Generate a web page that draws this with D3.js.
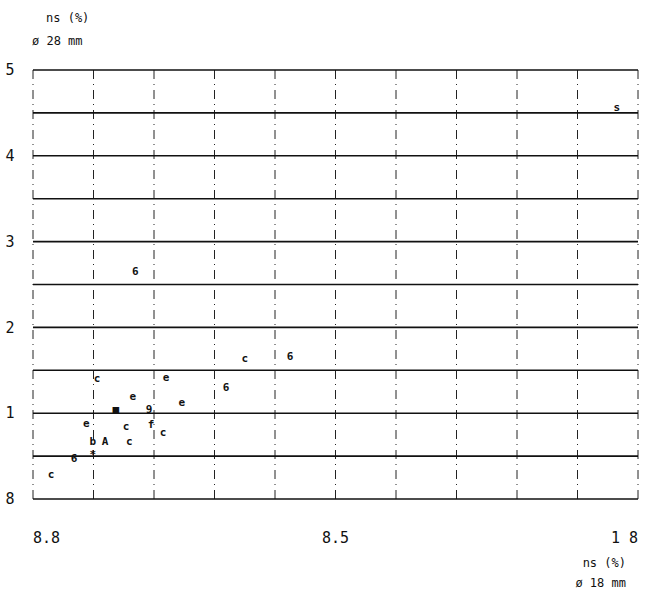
<!DOCTYPE html>
<html>
<head>
<meta charset="utf-8">
<script src="https://cdn.jsdelivr.net/npm/d3@7"></script>
<style>
  html, body { margin: 0; padding: 0; background: #fff; }
  svg { display: block; }
  text { font-family: "DejaVu Sans Mono", "Liberation Mono", monospace; fill: #111; }
</style>
</head>
<body>
<svg id="chart" width="653" height="593"></svg>
<script>
// ---- data ----
const xValues = [0.030, 0.068, 0.099, 0.099, 0.119, 0.159, 0.088, 0.154, 0.195, 0.215,
                 0.137, 0.192, 0.165, 0.106, 0.220, 0.246, 0.319, 0.350, 0.425, 0.169, 0.965];
const yValues = [0.29, 0.48, 0.52, 0.68, 0.67, 0.67, 0.88, 0.85, 0.87, 0.78,
                 1.05, 1.05, 1.20, 1.41, 1.42, 1.13, 1.30, 1.64, 1.67, 2.66, 4.57];
const markSymbols = ["c", "6", "*", "b", "A", "c", "e", "c", "f", "c",
                     "\u25A0", "9", "e", "c", "e", "e", "6", "c", "6", "6", "s"];
const yTickValues = [0, 1, 2, 3, 4, 5];
const yTickLabels = ["8", "1", "2", "3", "4", "5"];
const xTickValues = [0, 0.5, 1.0];
const xTickLabels = ["8.8", "8.5", "1 8"];
const yTitle = ["ns (%)", "\u00F8 28 mm"];
const xTitle = ["ns (%)", "\u00F8 18 mm"];

// ---- layout ----
const svg = d3.select("#chart");
const plotLeft = 33, plotRight = 638, plotTop = 70, plotBottom = 499;
const x = d3.scaleLinear().domain([0, 1]).range([plotLeft, plotRight]);
const y = d3.scaleLinear().domain([0, 5]).range([plotBottom, plotTop]);

// vertical dashed grid every 0.1
const vGrid = d3.range(0, 1.0001, 0.1);
svg.append("g").selectAll("line").data(vGrid).join("line")
  .attr("x1", d => x(d)).attr("x2", d => x(d))
  .attr("y1", y(5)).attr("y2", y(0))
  .attr("stroke", "#222").attr("stroke-width", 1)
  .attr("stroke-dasharray", "9,5,1,5");

// horizontal solid grid every 0.5
const hGrid = d3.range(0, 5.0001, 0.5);
svg.append("g").selectAll("line").data(hGrid).join("line")
  .attr("x1", x(0)).attr("x2", x(1))
  .attr("y1", d => y(d)).attr("y2", d => y(d))
  .attr("stroke", "#111").attr("stroke-width", 1.6);

// y tick labels
svg.append("g").selectAll("text").data(yTickValues).join("text")
  .attr("x", 10).attr("y", d => y(d))
  .attr("dy", "0.35em")
  .attr("text-anchor", "middle")
  .style("font-size", "15px")
  .text((d, i) => yTickLabels[i]);

// x tick labels
svg.append("g").selectAll("text").data(xTickValues).join("text")
  .attr("x", d => x(d)).attr("y", 543)
  .attr("text-anchor", (d, i) => i === 0 ? "start" : (i === xTickValues.length - 1 ? "end" : "middle"))
  .style("font-size", "15px")
  .text((d, i) => xTickLabels[i]);

// axis titles
svg.append("g").selectAll("text").data(yTitle).join("text")
  .attr("x", (d, i) => i === 0 ? 46 : 32)
  .attr("y", (d, i) => 22 + i * 23)
  .style("font-size", "12px")
  .text(d => d);
svg.append("g").selectAll("text").data(xTitle).join("text")
  .attr("x", 626).attr("text-anchor", "end")
  .attr("y", (d, i) => 567 + i * 20)
  .style("font-size", "12px")
  .text(d => d);

// points as glyph marks
svg.append("g").selectAll("text").data(xValues).join("text")
  .attr("x", d => x(d))
  .attr("y", (d, i) => y(yValues[i]))
  .attr("dy", "0.35em")
  .attr("text-anchor", "middle")
  .style("font-size", "11px")
  .style("font-weight", "bold")
  .text((d, i) => markSymbols[i]);
</script>
</body>
</html>
